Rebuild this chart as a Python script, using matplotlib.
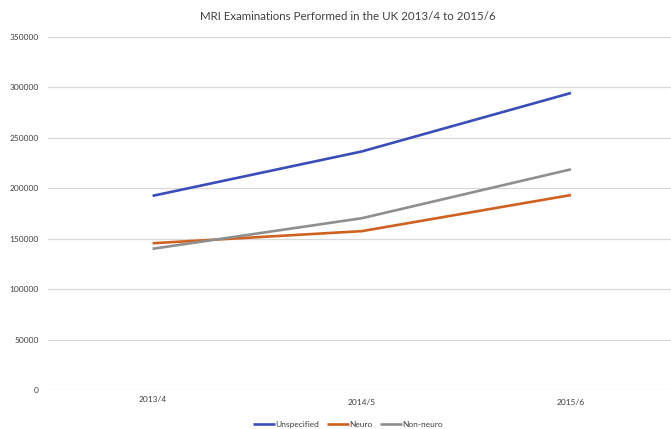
import numpy as np
import matplotlib
matplotlib.use("Agg")
import matplotlib.pyplot as plt

plt.rcParams['font.family'] = ['Lato', 'DejaVu Sans']

years = ["2013/4", "2014/5", "2015/6"]
unspecified = [192500, 236500, 294500]
neuro = [145500, 157500, 193300]
non_neuro = [140000, 170300, 218800]

fig = plt.figure(figsize=(6.71, 4.29), dpi=100)
ax = fig.add_axes([0.0715, 0.0909, 0.9285, 0.8229])

x = np.arange(len(years))
ax.plot(x, unspecified, color="#3B4DBA", lw=1.9, label="Unspecified", solid_capstyle="butt")
ax.plot(x, neuro, color="#CF6220", lw=1.9, label="Neuro", solid_capstyle="butt")
ax.plot(x, non_neuro, color="#8F8F8F", lw=1.9, label="Non-neuro", solid_capstyle="butt")

ax.set_xlim(-0.5, 2.478)
ax.set_ylim(0, 350000)
ax.set_yticks(np.arange(0, 350001, 50000))
ax.set_yticklabels([str(v) for v in range(0, 350001, 50000)], fontsize=6, color="#404040")
ax.tick_params(axis="y", length=0, pad=6.5)
ax.set_xticks(x)
ax.set_xticklabels([])
ax.tick_params(axis="x", length=0)
for i, lab in enumerate(years):
    dy = -0.027 if i == 0 else -0.034
    ax.text(i, dy, lab, transform=ax.get_xaxis_transform(), ha="center", va="center",
            fontsize=6, color="#404040")

ax.grid(axis="y", color="#D9D9D9", lw=0.9)
ax.set_axisbelow(True)
for s in ax.spines.values():
    s.set_visible(False)

fig.text(0.519, 0.962, "MRI Examinations Performed in the UK 2013/4 to 2015/6",
         ha="center", va="center", fontsize=8.3, color="#404040")

leg = fig.legend(loc="center", bbox_to_anchor=(0.519, 0.01), ncol=3, frameon=False,
                 fontsize=6, handlelength=2.6, handletextpad=0.1, columnspacing=0.9,
                 labelcolor="#404040")

fig.savefig("out.png", dpi=100)
